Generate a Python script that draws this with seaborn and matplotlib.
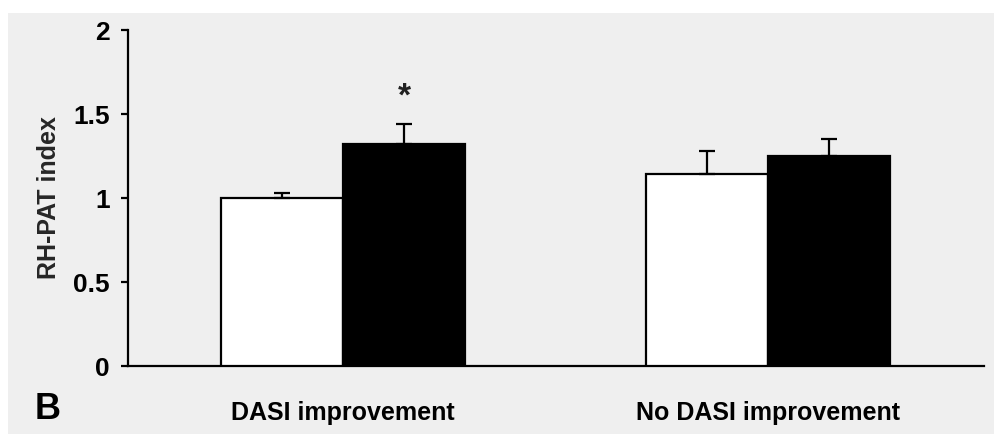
import matplotlib
matplotlib.use("Agg")
import matplotlib.pyplot as plt
import seaborn as sns
import pandas as pd
from matplotlib.patches import Rectangle

# ---- data ----
categories = ["DASI improvement", "No DASI improvement"]
conditions = ["Baseline", "Follow-up"]
baseline_values = [1.00, 1.14]
followup_values = [1.32, 1.25]
baseline_errors = [0.03, 0.14]
followup_errors = [0.12, 0.10]
yticks = [0, 0.5, 1, 1.5, 2]
ytick_labels = ["0", "0.5", "1", "1.5", "2"]
ylabel = "RH-PAT index"
panel_label = "B"
significance = ["*", ""]

df = pd.DataFrame({
    "group": categories * 2,
    "condition": [conditions[0]] * 2 + [conditions[1]] * 2,
    "value": baseline_values + followup_values,
})
errs = baseline_errors + followup_errors

sns.set_theme(style="white")
plt.rcParams["font.family"] = ["Liberation Sans", "DejaVu Sans"]
plt.rcParams["font.weight"] = "bold"

BG = "#efefef"
fig = plt.figure(figsize=(9.95, 4.34), dpi=100, facecolor="white")
fig.patches.append(Rectangle((8 / 995, 0), 1, 1 - 13 / 434, transform=fig.transFigure,
                             facecolor=BG, edgecolor="none", zorder=-10))
ax = fig.add_axes([128 / 995, 1 - 366 / 434, (984 - 128) / 995, (366 - 30) / 434])
ax.set_facecolor("none")

sns.barplot(data=df, x="group", y="value", hue="condition", order=categories,
            hue_order=conditions, palette=["white", "black"], edgecolor="black",
            linewidth=1.6, width=0.575, errorbar=None, legend=False, ax=ax, zorder=3)

# error bars (upper only) from the bar geometry
for p, e in zip(ax.patches, errs):
    cx = p.get_x() + p.get_width() / 2
    h = p.get_height()
    ax.errorbar([cx], [h], yerr=[[0], [e]], fmt="none", ecolor="black",
                elinewidth=1.6, capsize=5.5, capthick=1.6, zorder=4)

# significance marks above the follow-up bars
n = len(categories)
for i, mark in enumerate(significance):
    if mark:
        p = ax.patches[n + i]
        cx = p.get_x() + p.get_width() / 2
        ax.text(cx, p.get_height() + errs[n + i] + 0.16, mark, ha="center", va="center",
                fontsize=24, fontweight="bold", color="#222222")

ax.set_xlim(-0.506, 1.508)
ax.set_ylim(0, 2)
ax.set_yticks(yticks)
ax.set_yticklabels(ytick_labels)
ax.set_ylabel(ylabel, fontsize=18, fontweight="bold", labelpad=9)
ax.set_xlabel("")

for s in ["top", "right"]:
    ax.spines[s].set_visible(False)
for s in ["left", "bottom"]:
    ax.spines[s].set_linewidth(1.6)
    ax.spines[s].set_color("black")

ax.tick_params(axis="y", left=True, length=5, width=1.6, pad=8, labelsize=19, colors="black")
ax.tick_params(axis="x", bottom=False, length=0, pad=25, labelsize=18, colors="black")
for lbl in ax.get_xticklabels() + ax.get_yticklabels():
    lbl.set_fontweight("bold")

fig.text(35 / 995, 1 - 419 / 434, panel_label, fontsize=26, fontweight="bold",
         ha="left", va="baseline", color="black")

fig.savefig("out.png", dpi=100, facecolor=fig.get_facecolor())
